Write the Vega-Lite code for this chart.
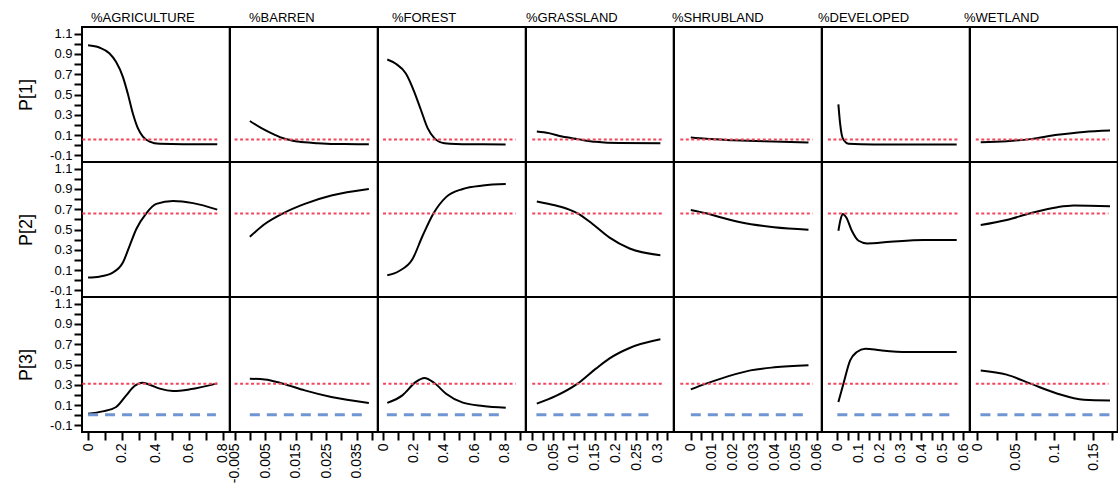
{
  "$schema": "https://vega.github.io/schema/vega-lite/v6.json",
  "padding": {"left": 16, "top": 11, "right": 0, "bottom": 0},
  "background": "white",
  "data": {"values": [
    {"v":"AG","r":"P[1]","k":"c","x":0,"y":0.985},{"v":"AG","r":"P[1]","k":"c","x":0.067,"y":0.963},{"v":"AG","r":"P[1]","k":"c","x":0.128,"y":0.904},{"v":"AG","r":"P[1]","k":"c","x":0.167,"y":0.82},{"v":"AG","r":"P[1]","k":"c","x":0.207,"y":0.674},{"v":"AG","r":"P[1]","k":"c","x":0.236,"y":0.51},{"v":"AG","r":"P[1]","k":"c","x":0.266,"y":0.315},{"v":"AG","r":"P[1]","k":"c","x":0.296,"y":0.168},{"v":"AG","r":"P[1]","k":"c","x":0.326,"y":0.085},{"v":"AG","r":"P[1]","k":"c","x":0.366,"y":0.036},{"v":"AG","r":"P[1]","k":"c","x":0.426,"y":0.014},{"v":"AG","r":"P[1]","k":"c","x":0.565,"y":0.01},{"v":"AG","r":"P[1]","k":"c","x":0.768,"y":0.01},
    {"v":"AG","r":"P[2]","k":"c","x":0,"y":0.026},{"v":"AG","r":"P[2]","k":"c","x":0.067,"y":0.035},{"v":"AG","r":"P[2]","k":"c","x":0.147,"y":0.075},{"v":"AG","r":"P[2]","k":"c","x":0.207,"y":0.174},{"v":"AG","r":"P[2]","k":"c","x":0.247,"y":0.339},{"v":"AG","r":"P[2]","k":"c","x":0.287,"y":0.505},{"v":"AG","r":"P[2]","k":"c","x":0.346,"y":0.66},{"v":"AG","r":"P[2]","k":"c","x":0.406,"y":0.753},{"v":"AG","r":"P[2]","k":"c","x":0.505,"y":0.78},{"v":"AG","r":"P[2]","k":"c","x":0.624,"y":0.76},{"v":"AG","r":"P[2]","k":"c","x":0.768,"y":0.696},
    {"v":"AG","r":"P[3]","k":"c","x":0,"y":0.015},{"v":"AG","r":"P[3]","k":"c","x":0.087,"y":0.038},{"v":"AG","r":"P[3]","k":"c","x":0.167,"y":0.081},{"v":"AG","r":"P[3]","k":"c","x":0.227,"y":0.196},{"v":"AG","r":"P[3]","k":"c","x":0.276,"y":0.288},{"v":"AG","r":"P[3]","k":"c","x":0.322,"y":0.321},{"v":"AG","r":"P[3]","k":"c","x":0.366,"y":0.301},{"v":"AG","r":"P[3]","k":"c","x":0.426,"y":0.262},{"v":"AG","r":"P[3]","k":"c","x":0.505,"y":0.239},{"v":"AG","r":"P[3]","k":"c","x":0.605,"y":0.255},{"v":"AG","r":"P[3]","k":"c","x":0.768,"y":0.314},
    {"v":"BA","r":"P[1]","k":"c","x":0,"y":0.239},{"v":"BA","r":"P[1]","k":"c","x":0.0038,"y":0.168},{"v":"BA","r":"P[1]","k":"c","x":0.0082,"y":0.102},{"v":"BA","r":"P[1]","k":"c","x":0.0109,"y":0.068},{"v":"BA","r":"P[1]","k":"c","x":0.0158,"y":0.036},{"v":"BA","r":"P[1]","k":"c","x":0.0223,"y":0.02},{"v":"BA","r":"P[1]","k":"c","x":0.031,"y":0.011},{"v":"BA","r":"P[1]","k":"c","x":0.039,"y":0.01},
    {"v":"BA","r":"P[2]","k":"c","x":0,"y":0.428},{"v":"BA","r":"P[2]","k":"c","x":0.0049,"y":0.554},{"v":"BA","r":"P[2]","k":"c","x":0.0109,"y":0.66},{"v":"BA","r":"P[2]","k":"c","x":0.018,"y":0.753},{"v":"BA","r":"P[2]","k":"c","x":0.0267,"y":0.835},{"v":"BA","r":"P[2]","k":"c","x":0.039,"y":0.9},
    {"v":"BA","r":"P[3]","k":"c","x":0,"y":0.36},{"v":"BA","r":"P[3]","k":"c","x":0.0049,"y":0.353},{"v":"BA","r":"P[3]","k":"c","x":0.0109,"y":0.311},{"v":"BA","r":"P[3]","k":"c","x":0.018,"y":0.245},{"v":"BA","r":"P[3]","k":"c","x":0.0267,"y":0.18},{"v":"BA","r":"P[3]","k":"c","x":0.039,"y":0.121},
    {"v":"FO","r":"P[1]","k":"c","x":0.028,"y":0.845},{"v":"FO","r":"P[1]","k":"c","x":0.084,"y":0.803},{"v":"FO","r":"P[1]","k":"c","x":0.15,"y":0.707},{"v":"FO","r":"P[1]","k":"c","x":0.205,"y":0.527},{"v":"FO","r":"P[1]","k":"c","x":0.249,"y":0.347},{"v":"FO","r":"P[1]","k":"c","x":0.293,"y":0.168},{"v":"FO","r":"P[1]","k":"c","x":0.337,"y":0.07},{"v":"FO","r":"P[1]","k":"c","x":0.403,"y":0.02},{"v":"FO","r":"P[1]","k":"c","x":0.568,"y":0.01},{"v":"FO","r":"P[1]","k":"c","x":0.805,"y":0.008},
    {"v":"FO","r":"P[2]","k":"c","x":0.028,"y":0.048},{"v":"FO","r":"P[2]","k":"c","x":0.106,"y":0.091},{"v":"FO","r":"P[2]","k":"c","x":0.193,"y":0.207},{"v":"FO","r":"P[2]","k":"c","x":0.26,"y":0.438},{"v":"FO","r":"P[2]","k":"c","x":0.332,"y":0.66},{"v":"FO","r":"P[2]","k":"c","x":0.414,"y":0.819},{"v":"FO","r":"P[2]","k":"c","x":0.524,"y":0.9},{"v":"FO","r":"P[2]","k":"c","x":0.656,"y":0.934},{"v":"FO","r":"P[2]","k":"c","x":0.806,"y":0.948},
    {"v":"FO","r":"P[3]","k":"c","x":0.028,"y":0.121},{"v":"FO","r":"P[3]","k":"c","x":0.127,"y":0.196},{"v":"FO","r":"P[3]","k":"c","x":0.216,"y":0.328},{"v":"FO","r":"P[3]","k":"c","x":0.271,"y":0.367},{"v":"FO","r":"P[3]","k":"c","x":0.337,"y":0.318},{"v":"FO","r":"P[3]","k":"c","x":0.414,"y":0.212},{"v":"FO","r":"P[3]","k":"c","x":0.524,"y":0.124},{"v":"FO","r":"P[3]","k":"c","x":0.656,"y":0.091},{"v":"FO","r":"P[3]","k":"c","x":0.806,"y":0.074},
    {"v":"GR","r":"P[1]","k":"c","x":0.011,"y":0.135},{"v":"GR","r":"P[1]","k":"c","x":0.04,"y":0.119},{"v":"GR","r":"P[1]","k":"c","x":0.072,"y":0.085},{"v":"GR","r":"P[1]","k":"c","x":0.109,"y":0.06},{"v":"GR","r":"P[1]","k":"c","x":0.153,"y":0.033},{"v":"GR","r":"P[1]","k":"c","x":0.209,"y":0.021},{"v":"GR","r":"P[1]","k":"c","x":0.308,"y":0.02},
    {"v":"GR","r":"P[2]","k":"c","x":0.011,"y":0.776},{"v":"GR","r":"P[2]","k":"c","x":0.057,"y":0.736},{"v":"GR","r":"P[2]","k":"c","x":0.089,"y":0.696},{"v":"GR","r":"P[2]","k":"c","x":0.109,"y":0.66},{"v":"GR","r":"P[2]","k":"c","x":0.145,"y":0.554},{"v":"GR","r":"P[2]","k":"c","x":0.185,"y":0.422},{"v":"GR","r":"P[2]","k":"c","x":0.234,"y":0.313},{"v":"GR","r":"P[2]","k":"c","x":0.308,"y":0.247},
    {"v":"GR","r":"P[3]","k":"c","x":0.011,"y":0.114},{"v":"GR","r":"P[3]","k":"c","x":0.057,"y":0.19},{"v":"GR","r":"P[3]","k":"c","x":0.109,"y":0.311},{"v":"GR","r":"P[3]","k":"c","x":0.153,"y":0.459},{"v":"GR","r":"P[3]","k":"c","x":0.185,"y":0.558},{"v":"GR","r":"P[3]","k":"c","x":0.234,"y":0.663},{"v":"GR","r":"P[3]","k":"c","x":0.308,"y":0.748},
    {"v":"SH","r":"P[1]","k":"c","x":0,"y":0.075},{"v":"SH","r":"P[1]","k":"c","x":0.0073,"y":0.063},{"v":"SH","r":"P[1]","k":"c","x":0.02,"y":0.05},{"v":"SH","r":"P[1]","k":"c","x":0.035,"y":0.038},{"v":"SH","r":"P[1]","k":"c","x":0.056,"y":0.027},
    {"v":"SH","r":"P[2]","k":"c","x":0,"y":0.693},{"v":"SH","r":"P[2]","k":"c","x":0.0073,"y":0.66},{"v":"SH","r":"P[2]","k":"c","x":0.015,"y":0.615},{"v":"SH","r":"P[2]","k":"c","x":0.0236,"y":0.571},{"v":"SH","r":"P[2]","k":"c","x":0.0396,"y":0.522},{"v":"SH","r":"P[2]","k":"c","x":0.056,"y":0.498},
    {"v":"SH","r":"P[3]","k":"c","x":0,"y":0.255},{"v":"SH","r":"P[3]","k":"c","x":0.0073,"y":0.311},{"v":"SH","r":"P[3]","k":"c","x":0.018,"y":0.385},{"v":"SH","r":"P[3]","k":"c","x":0.0284,"y":0.442},{"v":"SH","r":"P[3]","k":"c","x":0.0398,"y":0.472},{"v":"SH","r":"P[3]","k":"c","x":0.056,"y":0.492},
    {"v":"DE","r":"P[1]","k":"c","x":0.005,"y":0.403},{"v":"DE","r":"P[1]","k":"c","x":0.013,"y":0.217},{"v":"DE","r":"P[1]","k":"c","x":0.021,"y":0.102},{"v":"DE","r":"P[1]","k":"c","x":0.032,"y":0.046},{"v":"DE","r":"P[1]","k":"c","x":0.053,"y":0.014},{"v":"DE","r":"P[1]","k":"c","x":0.172,"y":0.008},{"v":"DE","r":"P[1]","k":"c","x":0.568,"y":0.008},
    {"v":"DE","r":"P[2]","k":"c","x":0.005,"y":0.488},{"v":"DE","r":"P[2]","k":"c","x":0.016,"y":0.604},{"v":"DE","r":"P[2]","k":"c","x":0.026,"y":0.654},{"v":"DE","r":"P[2]","k":"c","x":0.042,"y":0.621},{"v":"DE","r":"P[2]","k":"c","x":0.069,"y":0.488},{"v":"DE","r":"P[2]","k":"c","x":0.101,"y":0.389},{"v":"DE","r":"P[2]","k":"c","x":0.141,"y":0.363},{"v":"DE","r":"P[2]","k":"c","x":0.252,"y":0.379},{"v":"DE","r":"P[2]","k":"c","x":0.411,"y":0.396},{"v":"DE","r":"P[2]","k":"c","x":0.568,"y":0.396},
    {"v":"DE","r":"P[3]","k":"c","x":0.005,"y":0.131},{"v":"DE","r":"P[3]","k":"c","x":0.029,"y":0.311},{"v":"DE","r":"P[3]","k":"c","x":0.061,"y":0.541},{"v":"DE","r":"P[3]","k":"c","x":0.093,"y":0.623},{"v":"DE","r":"P[3]","k":"c","x":0.133,"y":0.656},{"v":"DE","r":"P[3]","k":"c","x":0.204,"y":0.64},{"v":"DE","r":"P[3]","k":"c","x":0.332,"y":0.623},{"v":"DE","r":"P[3]","k":"c","x":0.568,"y":0.623},
    {"v":"WE","r":"P[1]","k":"c","x":0.0044,"y":0.03},{"v":"WE","r":"P[1]","k":"c","x":0.038,"y":0.04},{"v":"WE","r":"P[1]","k":"c","x":0.069,"y":0.06},{"v":"WE","r":"P[1]","k":"c","x":0.104,"y":0.102},{"v":"WE","r":"P[1]","k":"c","x":0.138,"y":0.131},{"v":"WE","r":"P[1]","k":"c","x":0.172,"y":0.144},
    {"v":"WE","r":"P[2]","k":"c","x":0.0044,"y":0.544},{"v":"WE","r":"P[2]","k":"c","x":0.038,"y":0.594},{"v":"WE","r":"P[2]","k":"c","x":0.069,"y":0.66},{"v":"WE","r":"P[2]","k":"c","x":0.104,"y":0.72},{"v":"WE","r":"P[2]","k":"c","x":0.125,"y":0.736},{"v":"WE","r":"P[2]","k":"c","x":0.172,"y":0.73},
    {"v":"WE","r":"P[3]","k":"c","x":0.0044,"y":0.442},{"v":"WE","r":"P[3]","k":"c","x":0.038,"y":0.4},{"v":"WE","r":"P[3]","k":"c","x":0.069,"y":0.311},{"v":"WE","r":"P[3]","k":"c","x":0.104,"y":0.212},{"v":"WE","r":"P[3]","k":"c","x":0.138,"y":0.153},{"v":"WE","r":"P[3]","k":"c","x":0.172,"y":0.146},

    {"v":"AG","r":"P[1]","k":"v","x":0.345},{"v":"AG","r":"P[2]","k":"v","x":0.345},{"v":"AG","r":"P[3]","k":"v","x":0.345},
    {"v":"BA","r":"P[1]","k":"v","x":0.011},{"v":"BA","r":"P[2]","k":"v","x":0.011},{"v":"BA","r":"P[3]","k":"v","x":0.011},
    {"v":"FO","r":"P[1]","k":"v","x":0.332},{"v":"FO","r":"P[2]","k":"v","x":0.332},{"v":"FO","r":"P[3]","k":"v","x":0.332},
    {"v":"GR","r":"P[1]","k":"v","x":0.109},{"v":"GR","r":"P[2]","k":"v","x":0.109},{"v":"GR","r":"P[3]","k":"v","x":0.109},
    {"v":"SH","r":"P[1]","k":"v","x":0.0073},{"v":"SH","r":"P[2]","k":"v","x":0.0073},{"v":"SH","r":"P[3]","k":"v","x":0.0073},
    {"v":"DE","r":"P[1]","k":"v","x":0.029},{"v":"DE","r":"P[2]","k":"v","x":0.029},{"v":"DE","r":"P[3]","k":"v","x":0.029},
    {"v":"WE","r":"P[1]","k":"v","x":0.069},{"v":"WE","r":"P[2]","k":"v","x":0.069},{"v":"WE","r":"P[3]","k":"v","x":0.069},

    {"v":"AG","r":"P[1]","k":"h","x":-0.034,"x2":0.78,"y":0.057},{"v":"AG","r":"P[2]","k":"h","x":-0.034,"x2":0.78,"y":0.657},{"v":"AG","r":"P[3]","k":"h","x":-0.034,"x2":0.78,"y":0.31},
    {"v":"BA","r":"P[1]","k":"h","x":-0.005,"x2":0.0395,"y":0.057},{"v":"BA","r":"P[2]","k":"h","x":-0.005,"x2":0.0395,"y":0.657},{"v":"BA","r":"P[3]","k":"h","x":-0.005,"x2":0.0395,"y":0.31},
    {"v":"FO","r":"P[1]","k":"h","x":0,"x2":0.87,"y":0.057},{"v":"FO","r":"P[2]","k":"h","x":0,"x2":0.87,"y":0.657},{"v":"FO","r":"P[3]","k":"h","x":0,"x2":0.87,"y":0.31},
    {"v":"GR","r":"P[1]","k":"h","x":0,"x2":0.315,"y":0.057},{"v":"GR","r":"P[2]","k":"h","x":0,"x2":0.315,"y":0.657},{"v":"GR","r":"P[3]","k":"h","x":0,"x2":0.315,"y":0.31},
    {"v":"SH","r":"P[1]","k":"h","x":-0.005,"x2":0.058,"y":0.057},{"v":"SH","r":"P[2]","k":"h","x":-0.005,"x2":0.058,"y":0.657},{"v":"SH","r":"P[3]","k":"h","x":-0.005,"x2":0.058,"y":0.31},
    {"v":"DE","r":"P[1]","k":"h","x":-0.045,"x2":0.58,"y":0.057},{"v":"DE","r":"P[2]","k":"h","x":-0.045,"x2":0.58,"y":0.657},{"v":"DE","r":"P[3]","k":"h","x":-0.045,"x2":0.58,"y":0.31},
    {"v":"WE","r":"P[1]","k":"h","x":-0.002,"x2":0.17,"y":0.057},{"v":"WE","r":"P[2]","k":"h","x":-0.002,"x2":0.17,"y":0.657},{"v":"WE","r":"P[3]","k":"h","x":-0.002,"x2":0.17,"y":0.31},

    {"v":"AG","r":"P[3]","k":"b","x":0,"x2":0.76,"y":0.005},
    {"v":"BA","r":"P[3]","k":"b","x":0,"x2":0.0375,"y":0.005},
    {"v":"FO","r":"P[3]","k":"b","x":0.025,"x2":0.79,"y":0.005},
    {"v":"GR","r":"P[3]","k":"b","x":0.01,"x2":0.29,"y":0.005},
    {"v":"SH","r":"P[3]","k":"b","x":0,"x2":0.055,"y":0.005},
    {"v":"DE","r":"P[3]","k":"b","x":0,"x2":0.555,"y":0.005},
    {"v":"WE","r":"P[3]","k":"b","x":0.004,"x2":0.172,"y":0.005}
  ]},
  "columns": 7,
  "spacing": 0,
  "bounds": "flush",
  "concat": [
    {"transform": [{"filter": "datum.v=='AG' && datum.r=='P[1]'"}], "title": {"text": "%AGRICULTURE", "dx": 9}, "width": 147.7, "height": 135,
     "encoding": {"x": {"field": "x", "type": "quantitative", "scale": {"domain": [-0.036, 0.842], "nice": false, "zero": false}, "axis": null},
                  "y": {"field": "y", "type": "quantitative", "title": "P[1]", "scale": {"domain": [-0.1656, 1.1656], "nice": false, "zero": false}, "axis": {"values": [-0.1,0,0.1,0.2,0.3,0.4,0.5,0.6,0.7,0.8,0.9,1,1.1], "labelExpr": "abs(round(datum.value*10))%2==1 ? (datum.value<0?'-':'') + format(abs(datum.value),'.1f') : ''"}}},
     "layer": [{"transform": [{"filter": "datum.k=='c'"}], "mark": "line"}, {"transform": [{"filter": "datum.k=='v'"}], "mark": "rule", "encoding": {"y": {"datum": -0.1}, "y2": {"datum": 1.07}}}, {"transform": [{"filter": "datum.k=='h'"}], "mark": "rule", "encoding": {"x2": {"field": "x2"}}}]},
    {"transform": [{"filter": "datum.v=='BA' && datum.r=='P[1]'"}], "title": {"text": "%BARREN", "dx": 19}, "width": 147.7, "height": 135,
     "encoding": {"x": {"field": "x", "type": "quantitative", "scale": {"domain": [-0.0065, 0.0419], "nice": false, "zero": false}, "axis": null},
                  "y": {"field": "y", "type": "quantitative", "scale": {"domain": [-0.1656, 1.1656], "nice": false, "zero": false}, "axis": null}},
     "layer": [{"transform": [{"filter": "datum.k=='c'"}], "mark": "line"}, {"transform": [{"filter": "datum.k=='v'"}], "mark": "rule", "encoding": {"y": {"datum": -0.1}, "y2": {"datum": 1.07}}}, {"transform": [{"filter": "datum.k=='h'"}], "mark": "rule", "encoding": {"x2": {"field": "x2"}}}]},
    {"transform": [{"filter": "datum.v=='FO' && datum.r=='P[1]'"}], "title": {"text": "%FOREST", "dx": 14}, "width": 147.7, "height": 135,
     "encoding": {"x": {"field": "x", "type": "quantitative", "scale": {"domain": [-0.033, 0.937], "nice": false, "zero": false}, "axis": null},
                  "y": {"field": "y", "type": "quantitative", "scale": {"domain": [-0.1656, 1.1656], "nice": false, "zero": false}, "axis": null}},
     "layer": [{"transform": [{"filter": "datum.k=='c'"}], "mark": "line"}, {"transform": [{"filter": "datum.k=='v'"}], "mark": "rule", "encoding": {"y": {"datum": -0.1}, "y2": {"datum": 1.07}}}, {"transform": [{"filter": "datum.k=='h'"}], "mark": "rule", "encoding": {"x2": {"field": "x2"}}}]},
    {"transform": [{"filter": "datum.v=='GR' && datum.r=='P[1]'"}], "title": {"text": "%GRASSLAND", "dx": 0}, "width": 147.7, "height": 135,
     "encoding": {"x": {"field": "x", "type": "quantitative", "scale": {"domain": [-0.015, 0.34], "nice": false, "zero": false}, "axis": null},
                  "y": {"field": "y", "type": "quantitative", "scale": {"domain": [-0.1656, 1.1656], "nice": false, "zero": false}, "axis": null}},
     "layer": [{"transform": [{"filter": "datum.k=='c'"}], "mark": "line"}, {"transform": [{"filter": "datum.k=='v'"}], "mark": "rule", "encoding": {"y": {"datum": -0.1}, "y2": {"datum": 1.07}}}, {"transform": [{"filter": "datum.k=='h'"}], "mark": "rule", "encoding": {"x2": {"field": "x2"}}}]},
    {"transform": [{"filter": "datum.v=='SH' && datum.r=='P[1]'"}], "title": {"text": "%SHRUBLAND", "dx": -2}, "width": 147.7, "height": 135,
     "encoding": {"x": {"field": "x", "type": "quantitative", "scale": {"domain": [-0.008, 0.0623], "nice": false, "zero": false}, "axis": null},
                  "y": {"field": "y", "type": "quantitative", "scale": {"domain": [-0.1656, 1.1656], "nice": false, "zero": false}, "axis": null}},
     "layer": [{"transform": [{"filter": "datum.k=='c'"}], "mark": "line"}, {"transform": [{"filter": "datum.k=='v'"}], "mark": "rule", "encoding": {"y": {"datum": -0.1}, "y2": {"datum": 1.07}}}, {"transform": [{"filter": "datum.k=='h'"}], "mark": "rule", "encoding": {"x2": {"field": "x2"}}}]},
    {"transform": [{"filter": "datum.v=='DE' && datum.r=='P[1]'"}], "title": {"text": "%DEVELOPED", "dx": -4}, "width": 147.7, "height": 135,
     "encoding": {"x": {"field": "x", "type": "quantitative", "scale": {"domain": [-0.073, 0.63], "nice": false, "zero": false}, "axis": null},
                  "y": {"field": "y", "type": "quantitative", "scale": {"domain": [-0.1656, 1.1656], "nice": false, "zero": false}, "axis": null}},
     "layer": [{"transform": [{"filter": "datum.k=='c'"}], "mark": "line"}, {"transform": [{"filter": "datum.k=='v'"}], "mark": "rule", "encoding": {"y": {"datum": -0.1}, "y2": {"datum": 1.07}}}, {"transform": [{"filter": "datum.k=='h'"}], "mark": "rule", "encoding": {"x2": {"field": "x2"}}}]},
    {"transform": [{"filter": "datum.v=='WE' && datum.r=='P[1]'"}], "title": {"text": "%WETLAND", "dx": -6}, "width": 147.7, "height": 135,
     "encoding": {"x": {"field": "x", "type": "quantitative", "scale": {"domain": [-0.0095, 0.182], "nice": false, "zero": false}, "axis": null},
                  "y": {"field": "y", "type": "quantitative", "scale": {"domain": [-0.1656, 1.1656], "nice": false, "zero": false}, "axis": null}},
     "layer": [{"transform": [{"filter": "datum.k=='c'"}], "mark": "line"}, {"transform": [{"filter": "datum.k=='v'"}], "mark": "rule", "encoding": {"y": {"datum": -0.1}, "y2": {"datum": 1.07}}}, {"transform": [{"filter": "datum.k=='h'"}], "mark": "rule", "encoding": {"x2": {"field": "x2"}}}]},

    {"transform": [{"filter": "datum.v=='AG' && datum.r=='P[2]'"}], "width": 147.7, "height": 135,
     "encoding": {"x": {"field": "x", "type": "quantitative", "scale": {"domain": [-0.036, 0.842], "nice": false, "zero": false}, "axis": null},
                  "y": {"field": "y", "type": "quantitative", "title": "P[2]", "scale": {"domain": [-0.1656, 1.1656], "nice": false, "zero": false}, "axis": {"values": [-0.1,0,0.1,0.2,0.3,0.4,0.5,0.6,0.7,0.8,0.9,1,1.1], "labelExpr": "abs(round(datum.value*10))%2==1 ? (datum.value<0?'-':'') + format(abs(datum.value),'.1f') : ''"}}},
     "layer": [{"transform": [{"filter": "datum.k=='c'"}], "mark": "line"}, {"transform": [{"filter": "datum.k=='v'"}], "mark": "rule", "encoding": {"y": {"datum": -0.1}, "y2": {"datum": 1.07}}}, {"transform": [{"filter": "datum.k=='h'"}], "mark": "rule", "encoding": {"x2": {"field": "x2"}}}]},
    {"transform": [{"filter": "datum.v=='BA' && datum.r=='P[2]'"}], "width": 147.7, "height": 135,
     "encoding": {"x": {"field": "x", "type": "quantitative", "scale": {"domain": [-0.0065, 0.0419], "nice": false, "zero": false}, "axis": null},
                  "y": {"field": "y", "type": "quantitative", "scale": {"domain": [-0.1656, 1.1656], "nice": false, "zero": false}, "axis": null}},
     "layer": [{"transform": [{"filter": "datum.k=='c'"}], "mark": "line"}, {"transform": [{"filter": "datum.k=='v'"}], "mark": "rule", "encoding": {"y": {"datum": -0.1}, "y2": {"datum": 1.07}}}, {"transform": [{"filter": "datum.k=='h'"}], "mark": "rule", "encoding": {"x2": {"field": "x2"}}}]},
    {"transform": [{"filter": "datum.v=='FO' && datum.r=='P[2]'"}], "width": 147.7, "height": 135,
     "encoding": {"x": {"field": "x", "type": "quantitative", "scale": {"domain": [-0.033, 0.937], "nice": false, "zero": false}, "axis": null},
                  "y": {"field": "y", "type": "quantitative", "scale": {"domain": [-0.1656, 1.1656], "nice": false, "zero": false}, "axis": null}},
     "layer": [{"transform": [{"filter": "datum.k=='c'"}], "mark": "line"}, {"transform": [{"filter": "datum.k=='v'"}], "mark": "rule", "encoding": {"y": {"datum": -0.1}, "y2": {"datum": 1.07}}}, {"transform": [{"filter": "datum.k=='h'"}], "mark": "rule", "encoding": {"x2": {"field": "x2"}}}]},
    {"transform": [{"filter": "datum.v=='GR' && datum.r=='P[2]'"}], "width": 147.7, "height": 135,
     "encoding": {"x": {"field": "x", "type": "quantitative", "scale": {"domain": [-0.015, 0.34], "nice": false, "zero": false}, "axis": null},
                  "y": {"field": "y", "type": "quantitative", "scale": {"domain": [-0.1656, 1.1656], "nice": false, "zero": false}, "axis": null}},
     "layer": [{"transform": [{"filter": "datum.k=='c'"}], "mark": "line"}, {"transform": [{"filter": "datum.k=='v'"}], "mark": "rule", "encoding": {"y": {"datum": -0.1}, "y2": {"datum": 1.07}}}, {"transform": [{"filter": "datum.k=='h'"}], "mark": "rule", "encoding": {"x2": {"field": "x2"}}}]},
    {"transform": [{"filter": "datum.v=='SH' && datum.r=='P[2]'"}], "width": 147.7, "height": 135,
     "encoding": {"x": {"field": "x", "type": "quantitative", "scale": {"domain": [-0.008, 0.0623], "nice": false, "zero": false}, "axis": null},
                  "y": {"field": "y", "type": "quantitative", "scale": {"domain": [-0.1656, 1.1656], "nice": false, "zero": false}, "axis": null}},
     "layer": [{"transform": [{"filter": "datum.k=='c'"}], "mark": "line"}, {"transform": [{"filter": "datum.k=='v'"}], "mark": "rule", "encoding": {"y": {"datum": -0.1}, "y2": {"datum": 1.07}}}, {"transform": [{"filter": "datum.k=='h'"}], "mark": "rule", "encoding": {"x2": {"field": "x2"}}}]},
    {"transform": [{"filter": "datum.v=='DE' && datum.r=='P[2]'"}], "width": 147.7, "height": 135,
     "encoding": {"x": {"field": "x", "type": "quantitative", "scale": {"domain": [-0.073, 0.63], "nice": false, "zero": false}, "axis": null},
                  "y": {"field": "y", "type": "quantitative", "scale": {"domain": [-0.1656, 1.1656], "nice": false, "zero": false}, "axis": null}},
     "layer": [{"transform": [{"filter": "datum.k=='c'"}], "mark": "line"}, {"transform": [{"filter": "datum.k=='v'"}], "mark": "rule", "encoding": {"y": {"datum": -0.1}, "y2": {"datum": 1.07}}}, {"transform": [{"filter": "datum.k=='h'"}], "mark": "rule", "encoding": {"x2": {"field": "x2"}}}]},
    {"transform": [{"filter": "datum.v=='WE' && datum.r=='P[2]'"}], "width": 147.7, "height": 135,
     "encoding": {"x": {"field": "x", "type": "quantitative", "scale": {"domain": [-0.0095, 0.182], "nice": false, "zero": false}, "axis": null},
                  "y": {"field": "y", "type": "quantitative", "scale": {"domain": [-0.1656, 1.1656], "nice": false, "zero": false}, "axis": null}},
     "layer": [{"transform": [{"filter": "datum.k=='c'"}], "mark": "line"}, {"transform": [{"filter": "datum.k=='v'"}], "mark": "rule", "encoding": {"y": {"datum": -0.1}, "y2": {"datum": 1.07}}}, {"transform": [{"filter": "datum.k=='h'"}], "mark": "rule", "encoding": {"x2": {"field": "x2"}}}]},

    {"transform": [{"filter": "datum.v=='AG' && datum.r=='P[3]'"}], "width": 147.7, "height": 135,
     "encoding": {"x": {"field": "x", "type": "quantitative", "title": null, "scale": {"domain": [-0.036, 0.842], "nice": false, "zero": false}, "axis": {"values": [0,0.1,0.2,0.3,0.4,0.5,0.6,0.7,0.8], "labelExpr": "round(datum.value*10)%2==0 ? format(datum.value,'.1~f') : ''"}},
                  "y": {"field": "y", "type": "quantitative", "title": "P[3]", "scale": {"domain": [-0.1656, 1.1656], "nice": false, "zero": false}, "axis": {"values": [-0.1,0,0.1,0.2,0.3,0.4,0.5,0.6,0.7,0.8,0.9,1,1.1], "labelExpr": "abs(round(datum.value*10))%2==1 ? (datum.value<0?'-':'') + format(abs(datum.value),'.1f') : ''"}}},
     "layer": [{"transform": [{"filter": "datum.k=='c'"}], "mark": "line"}, {"transform": [{"filter": "datum.k=='v'"}], "mark": "rule", "encoding": {"y": {"datum": -0.1}, "y2": {"datum": 1.07}}}, {"transform": [{"filter": "datum.k=='h'"}], "mark": "rule", "encoding": {"x2": {"field": "x2"}}}, {"transform": [{"filter": "datum.k=='b'"}], "mark": {"type": "rule", "color": "#6f95d2", "strokeWidth": 3, "strokeDash": [10, 7]}, "encoding": {"x2": {"field": "x2"}}}]},
    {"transform": [{"filter": "datum.v=='BA' && datum.r=='P[3]'"}], "width": 147.7, "height": 135,
     "encoding": {"x": {"field": "x", "type": "quantitative", "title": null, "scale": {"domain": [-0.0065, 0.0419], "nice": false, "zero": false}, "axis": {"values": [-0.005,0,0.005,0.01,0.015,0.02,0.025,0.03,0.035,0.04], "labelExpr": "abs(round(datum.value*200))%2==1 ? (datum.value<0?'-':'') + format(abs(datum.value),'.3~f') : ''"}},
                  "y": {"field": "y", "type": "quantitative", "scale": {"domain": [-0.1656, 1.1656], "nice": false, "zero": false}, "axis": null}},
     "layer": [{"transform": [{"filter": "datum.k=='c'"}], "mark": "line"}, {"transform": [{"filter": "datum.k=='v'"}], "mark": "rule", "encoding": {"y": {"datum": -0.1}, "y2": {"datum": 1.07}}}, {"transform": [{"filter": "datum.k=='h'"}], "mark": "rule", "encoding": {"x2": {"field": "x2"}}}, {"transform": [{"filter": "datum.k=='b'"}], "mark": {"type": "rule", "color": "#6f95d2", "strokeWidth": 3, "strokeDash": [10, 7]}, "encoding": {"x2": {"field": "x2"}}}]},
    {"transform": [{"filter": "datum.v=='FO' && datum.r=='P[3]'"}], "width": 147.7, "height": 135,
     "encoding": {"x": {"field": "x", "type": "quantitative", "title": null, "scale": {"domain": [-0.033, 0.937], "nice": false, "zero": false}, "axis": {"values": [0,0.1,0.2,0.3,0.4,0.5,0.6,0.7,0.8,0.9], "labelExpr": "round(datum.value*10)%2==0 ? format(datum.value,'.1~f') : ''"}},
                  "y": {"field": "y", "type": "quantitative", "scale": {"domain": [-0.1656, 1.1656], "nice": false, "zero": false}, "axis": null}},
     "layer": [{"transform": [{"filter": "datum.k=='c'"}], "mark": "line"}, {"transform": [{"filter": "datum.k=='v'"}], "mark": "rule", "encoding": {"y": {"datum": -0.1}, "y2": {"datum": 1.07}}}, {"transform": [{"filter": "datum.k=='h'"}], "mark": "rule", "encoding": {"x2": {"field": "x2"}}}, {"transform": [{"filter": "datum.k=='b'"}], "mark": {"type": "rule", "color": "#6f95d2", "strokeWidth": 3, "strokeDash": [10, 7]}, "encoding": {"x2": {"field": "x2"}}}]},
    {"transform": [{"filter": "datum.v=='GR' && datum.r=='P[3]'"}], "width": 147.7, "height": 135,
     "encoding": {"x": {"field": "x", "type": "quantitative", "title": null, "scale": {"domain": [-0.015, 0.34], "nice": false, "zero": false}, "axis": {"values": [0,0.025,0.05,0.075,0.1,0.125,0.15,0.175,0.2,0.225,0.25,0.275,0.3,0.325], "labelExpr": "round(datum.value*40)%2==0 ? format(datum.value,'.2~f') : ''"}},
                  "y": {"field": "y", "type": "quantitative", "scale": {"domain": [-0.1656, 1.1656], "nice": false, "zero": false}, "axis": null}},
     "layer": [{"transform": [{"filter": "datum.k=='c'"}], "mark": "line"}, {"transform": [{"filter": "datum.k=='v'"}], "mark": "rule", "encoding": {"y": {"datum": -0.1}, "y2": {"datum": 1.07}}}, {"transform": [{"filter": "datum.k=='h'"}], "mark": "rule", "encoding": {"x2": {"field": "x2"}}}, {"transform": [{"filter": "datum.k=='b'"}], "mark": {"type": "rule", "color": "#6f95d2", "strokeWidth": 3, "strokeDash": [10, 7]}, "encoding": {"x2": {"field": "x2"}}}]},
    {"transform": [{"filter": "datum.v=='SH' && datum.r=='P[3]'"}], "width": 147.7, "height": 135,
     "encoding": {"x": {"field": "x", "type": "quantitative", "title": null, "scale": {"domain": [-0.008, 0.0623], "nice": false, "zero": false}, "axis": {"values": [0,0.005,0.01,0.015,0.02,0.025,0.03,0.035,0.04,0.045,0.05,0.055,0.06], "labelExpr": "round(datum.value*200)%2==0 ? format(datum.value,'.2~f') : ''"}},
                  "y": {"field": "y", "type": "quantitative", "scale": {"domain": [-0.1656, 1.1656], "nice": false, "zero": false}, "axis": null}},
     "layer": [{"transform": [{"filter": "datum.k=='c'"}], "mark": "line"}, {"transform": [{"filter": "datum.k=='v'"}], "mark": "rule", "encoding": {"y": {"datum": -0.1}, "y2": {"datum": 1.07}}}, {"transform": [{"filter": "datum.k=='h'"}], "mark": "rule", "encoding": {"x2": {"field": "x2"}}}, {"transform": [{"filter": "datum.k=='b'"}], "mark": {"type": "rule", "color": "#6f95d2", "strokeWidth": 3, "strokeDash": [10, 7]}, "encoding": {"x2": {"field": "x2"}}}]},
    {"transform": [{"filter": "datum.v=='DE' && datum.r=='P[3]'"}], "width": 147.7, "height": 135,
     "encoding": {"x": {"field": "x", "type": "quantitative", "title": null, "scale": {"domain": [-0.073, 0.63], "nice": false, "zero": false}, "axis": {"values": [0,0.05,0.1,0.15,0.2,0.25,0.3,0.35,0.4,0.45,0.5,0.55,0.6], "labelExpr": "round(datum.value*20)%2==0 ? format(datum.value,'.1~f') : ''"}},
                  "y": {"field": "y", "type": "quantitative", "scale": {"domain": [-0.1656, 1.1656], "nice": false, "zero": false}, "axis": null}},
     "layer": [{"transform": [{"filter": "datum.k=='c'"}], "mark": "line"}, {"transform": [{"filter": "datum.k=='v'"}], "mark": "rule", "encoding": {"y": {"datum": -0.1}, "y2": {"datum": 1.07}}}, {"transform": [{"filter": "datum.k=='h'"}], "mark": "rule", "encoding": {"x2": {"field": "x2"}}}, {"transform": [{"filter": "datum.k=='b'"}], "mark": {"type": "rule", "color": "#6f95d2", "strokeWidth": 3, "strokeDash": [10, 7]}, "encoding": {"x2": {"field": "x2"}}}]},
    {"transform": [{"filter": "datum.v=='WE' && datum.r=='P[3]'"}], "width": 147.7, "height": 135,
     "encoding": {"x": {"field": "x", "type": "quantitative", "title": null, "scale": {"domain": [-0.0095, 0.182], "nice": false, "zero": false}, "axis": {"values": [0,0.025,0.05,0.075,0.1,0.125,0.15,0.175], "labelExpr": "round(datum.value*40)%2==0 ? format(datum.value,'.2~f') : ''"}},
                  "y": {"field": "y", "type": "quantitative", "scale": {"domain": [-0.1656, 1.1656], "nice": false, "zero": false}, "axis": null}},
     "layer": [{"transform": [{"filter": "datum.k=='c'"}], "mark": "line"}, {"transform": [{"filter": "datum.k=='v'"}], "mark": "rule", "encoding": {"y": {"datum": -0.1}, "y2": {"datum": 1.07}}}, {"transform": [{"filter": "datum.k=='h'"}], "mark": "rule", "encoding": {"x2": {"field": "x2"}}}, {"transform": [{"filter": "datum.k=='b'"}], "mark": {"type": "rule", "color": "#6f95d2", "strokeWidth": 3, "strokeDash": [10, 7]}, "encoding": {"x2": {"field": "x2"}}}]}
  ],
  "config": {
    "view": {"stroke": "black", "strokeWidth": 2},
    "font": "Liberation Sans",
    "line": {"color": "black", "strokeWidth": 2, "interpolate": "monotone"},
    "rule": {"color": "#f2465f", "strokeWidth": 2, "strokeDash": [3, 2.5]},
    "axis": {"grid": false, "domain": false, "ticks": true, "tickColor": "black", "tickWidth": 2, "tickSize": 8, "labelColor": "black", "labelFont": "Liberation Sans", "labelFontSize": 14, "labelPadding": 3},
    "axisX": {"labelAngle": -90, "labelPadding": 3},
    "axisY": {"labelAngle": 0, "labelPadding": 2, "labelFontSize": 13, "titleFont": "Liberation Sans", "titleFontSize": 18, "titleFontWeight": "normal", "titleColor": "black", "titlePadding": 14},
    "title": {"anchor": "start", "frame": "group", "font": "Liberation Sans", "fontSize": 13, "fontWeight": "normal", "color": "black", "offset": 2}
  }
}
